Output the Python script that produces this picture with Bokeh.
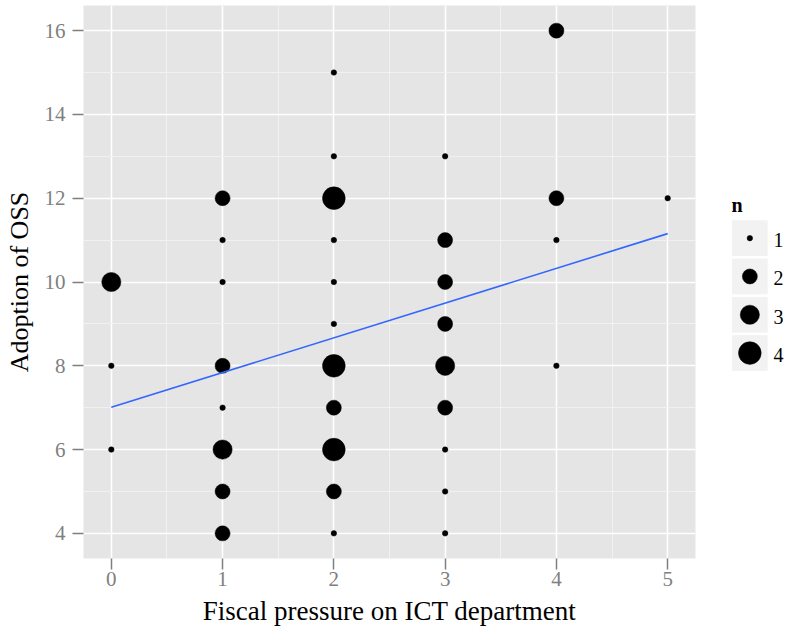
import numpy as np
from bokeh.plotting import figure
from bokeh.models import Range1d, SingleIntervalTicker, ColumnDataSource
from bokeh.layouts import row
from bokeh.embed import file_html
from bokeh.resources import INLINE
from bokeh.core.properties import value

# ---------------- data ----------------
fiscal = [0, 0, 0,
          1, 1, 1, 1, 1, 1, 1, 1,
          2, 2, 2, 2, 2, 2, 2, 2, 2, 2, 2,
          3, 3, 3, 3, 3, 3, 3, 3, 3,
          4, 4, 4, 4,
          5]
oss = [10, 8, 6,
       12, 11, 10, 8, 7, 6, 5, 4,
       15, 13, 12, 11, 10, 9, 8, 7, 6, 5, 4,
       13, 11, 10, 9, 8, 7, 6, 5, 4,
       16, 12, 11, 8,
       12]
count = [3, 1, 1,
         2, 1, 1, 2, 1, 3, 2, 2,
         1, 1, 4, 1, 1, 1, 4, 2, 4, 2, 1,
         1, 2, 2, 2, 3, 2, 1, 1, 1,
         2, 2, 1, 1,
         1]
legend_levels = [1, 2, 3, 4]
x_label = "Fiscal pressure on ICT department"
y_label = "Adoption of OSS"

# ---------------- styles ----------------
SIZE_MAP = {1: 5.5, 2: 15.0, 3: 19.2, 4: 22.7}
FONT = "Liberation Serif"
PANEL = "#E5E5E5"
GREY_TXT = "#7F7F7F"

# regression line (lm on the expanded observations)
xs_all = np.repeat(fiscal, count)
ys_all = np.repeat(oss, count)
slope, intercept = np.polyfit(xs_all, ys_all, 1)
line_x = [min(fiscal), max(fiscal)]
line_y = [intercept + slope * v for v in line_x]

src = ColumnDataSource(dict(x=fiscal, y=oss, n=count,
                            s=[SIZE_MAP[c] for c in count]))

TOP, BOTTOM = 5, 76

p = figure(width=700, height=634,
           x_range=Range1d(-0.25, 5.25), y_range=Range1d(3.4, 16.6),
           output_backend="svg", toolbar_location=None,
           min_border_left=83, min_border_right=5,
           min_border_top=TOP, min_border_bottom=BOTTOM)
p.background_fill_color = PANEL
p.border_fill_color = "white"
p.outline_line_color = None

p.xaxis.ticker = SingleIntervalTicker(interval=1, num_minor_ticks=2)
p.yaxis.ticker = SingleIntervalTicker(interval=2, num_minor_ticks=2)

for g in (p.xgrid, p.ygrid):
    g.grid_line_color = "white"
    g.grid_line_width = 1.6
    g.minor_grid_line_color = "#F2F2F2"
    g.minor_grid_line_width = 0.9

for ax in (p.xaxis, p.yaxis):
    ax.axis_line_color = None
    ax.major_tick_line_color = GREY_TXT
    ax.major_tick_line_width = 1.5
    ax.major_tick_out = 11
    ax.major_tick_in = 0
    ax.minor_tick_line_color = None
    ax.major_label_text_font = FONT
    ax.major_label_text_font_size = "21px"
    ax.major_label_text_color = GREY_TXT
    ax.axis_label_text_font = FONT
    ax.axis_label_text_font_style = "normal"
    ax.axis_label_text_color = "black"

p.xaxis.axis_label_text_font_size = "27px"
p.yaxis.axis_label_text_font_size = "26px"
p.xaxis.axis_label = x_label
p.yaxis.axis_label = y_label
p.xaxis.major_label_standoff = 2
p.xaxis.axis_label_standoff = 7
p.yaxis.major_label_standoff = 7
p.yaxis.axis_label_standoff = 8

p.scatter("x", "y", size="s", source=src, fill_color="black",
          line_color="black", line_width=0.5)
p.line(line_x, line_y, line_color="#3366FF", line_width=1.6)

# ---------------- legend (separate panel, page-pixel coordinates) ----------------
lg = figure(width=88, height=634,
            x_range=Range1d(700, 788), y_range=Range1d(634 - BOTTOM, TOP),
            output_backend="svg", toolbar_location=None,
            x_axis_location=None, y_axis_location=None,
            min_border_left=0, min_border_right=0,
            min_border_top=TOP, min_border_bottom=BOTTOM)
lg.outline_line_color = None
lg.grid.visible = False
lg.background_fill_color = "white"
lg.border_fill_color = "white"

key_w = 36.7
key_step = 38.3
key_top = 219.3
key_x = 731 + key_w / 2
centers = [key_top + key_w / 2 + i * key_step for i in range(len(legend_levels))]

lg.rect(x=[key_x] * len(centers), y=centers, width=key_w, height=key_w,
        fill_color="#F2F2F2", line_color="white")
lg.scatter(x=[key_x] * len(centers), y=centers,
           size=[SIZE_MAP[n] for n in legend_levels],
           fill_color="black", line_color="black", line_width=0.5)
lg.text(x=[773] * len(centers), y=[c + 2 for c in centers],
        text=[str(n) for n in legend_levels],
        text_baseline="middle", text_align="left",
        text_font=value(FONT), text_font_size="20px", text_color="black")
lg.text(x=[731], y=[204], text=["n"], text_baseline="middle",
        text_align="left", text_font=value(FONT), text_font_size="20px",
        text_font_style="bold", text_color="black")

layout = row(p, lg)
open("out.html", "w").write(file_html(layout, INLINE))
